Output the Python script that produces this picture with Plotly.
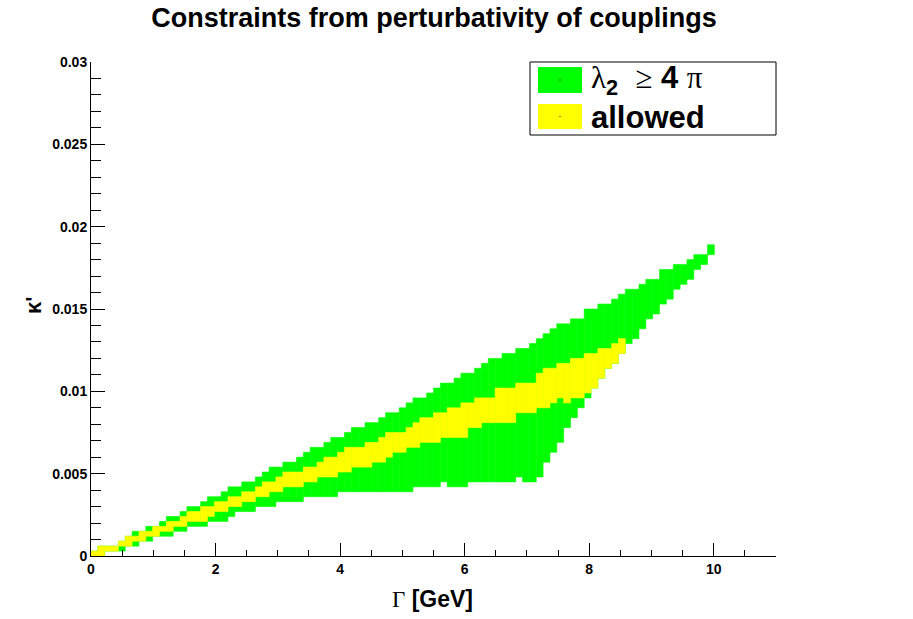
import plotly.graph_objects as go

# ---- histogram binning (TH2: 100 x-bins over 0-11 GeV, 100 y-bins over 0-0.03) ----
gamma_bin = 0.11
kappa_bin = 0.0003

# ---- filled cells per Gamma column (y-bin indices, inclusive) ----
# None = no cells of that kind in the column
green_lo = [None, None, None, None, 1, None, 2, None, 3, None, 4, 4, 5, 5, 6, 6, 6, 7, 7, 7, 8,
            9, 9, 9, 10, 10, 10, 11, 11, 11, 11, 12, 12, 12, 12, 12, 13, 13, 13, 13, 13,
            13, 13, 13, 13, 13, 13, 14, 14, 14, 14, 15, 14, 14, 14, 15, 15, 15, 15, 15, 15,
            15, 16, 15, 15, 16, 19, 21, 23, 26, 28, 30, 32, None, None, None, None, None,
            43, 44, 46, 48, 49, 51, 52, 54, 55, 56, 58, 59, 61]
green_hi = [None, None, None, None, None, None, 4, None, 5, None, 6, 7, 7, 8, 9, 9, 10, 11, 11, 12, 13,
            13, 14, 14, 15, 16, 17, 17, 18, 18, 19, 20, 21, 21, 22, 23, 23, 24, 25, 25, 26,
            26, 27, 28, 28, 29, 30, 31, 31, 32, 33, 34, 34, 35, 36, 36, 37, 38, 39, 39, 40,
            40, 41, 41, 42, 43, 44, 45, 46, 46, 47, 47, 49, 49, 50, 50, 51, 52,
            53, 53, 54, 55, 55, 57, 57, 58, 58, 59, 60, 60, 62]
allowed_lo = [0, 0, 1, 1, 2, 2, 3, 3, 4, 4, 5, 5, 6, 6, 7, 7, 7, 8, 9, 9, 10,
              10, 11, 11, 12, 12, 13, 13, 14, 14, 14, 15, 15, 16, 16, 16, 17, 17, 18, 18, 18,
              19, 19, 20, 21, 21, 22, 22, 23, 23, 23, 24, 24, 24, 24, 26, 26, 27, 27, 27, 27,
              27, 29, 29, 29, 30, 30, 31, 32, 31, 32, 32, 33, 34, 36, 38, 39, 41,
              None, None, None, None, None, None, None, None, None, None, None, None, None]
allowed_hi = [0, 1, 1, 1, 2, 3, 3, 4, 4, 5, 5, 6, 6, 7, 8, 8, 9, 9, 10, 10, 11,
              11, 12, 12, 13, 14, 14, 15, 16, 16, 16, 17, 17, 18, 19, 19, 20, 21, 21, 21, 22,
              22, 23, 24, 24, 24, 25, 26, 27, 27, 28, 28, 29, 29, 30, 30, 31, 31, 31, 33, 33,
              33, 34, 34, 34, 36, 37, 37, 38, 38, 39, 39, 40, 40, 41, 41, 42, 43,
              None, None, None, None, None, None, None, None, None, None, None, None, None]

title_text = "Constraints from perturbativity of couplings"
legend_labels = ["λ<sub>2</sub> ≥ 4 π", "allowed"]
x_ticks = [0, 2, 4, 6, 8, 10]
y_ticks = [0, 0.005, 0.01, 0.015, 0.02, 0.025, 0.03]
y_tick_text = ["0", "0.005", "0.01", "0.015", "0.02", "0.025", "0.03"]

GREEN = "#00ff00"
YELLOW = "#ffff00"
FONT = "Liberation Sans"
SERIF = "Liberation Serif"

# ---- build bars from the bins ----
gx, gbase, gh = [], [], []
ax_, abase, ah = [], [], []
for i in range(len(green_lo)):
    lows = [v for v in (green_lo[i], allowed_lo[i]) if v is not None]
    highs = [v for v in (green_hi[i], allowed_hi[i]) if v is not None]
    xc = (i + 0.5) * gamma_bin
    if lows and highs:
        lo, hi = min(lows), max(highs)
        gx.append(xc)
        gbase.append(lo * kappa_bin)
        gh.append((hi + 1 - lo) * kappa_bin)
    if allowed_lo[i] is not None:
        ax_.append(xc)
        abase.append(allowed_lo[i] * kappa_bin)
        ah.append((allowed_hi[i] + 1 - allowed_lo[i]) * kappa_bin)

fig = go.Figure()
fig.add_trace(go.Bar(x=gx, y=gh, base=gbase, width=gamma_bin,
                     marker=dict(color=GREEN, line=dict(width=0.6, color=GREEN)),
                     showlegend=False, hoverinfo="skip"))
fig.add_trace(go.Bar(x=ax_, y=ah, base=abase, width=gamma_bin,
                     marker=dict(color=YELLOW, line=dict(width=0.6, color=YELLOW)),
                     showlegend=False, hoverinfo="skip"))

# ---- page geometry ----
W, H = 913, 619
L, R, T, B = 91, 776, 62, 556


def px(xp):
    return (xp - L) / (R - L)


def py(yp):
    return (B - yp) / (B - T)


shapes = []
annotations = []
# legend box
shapes.append(dict(type="rect", xref="paper", yref="paper",
                   x0=px(530), x1=px(776), y0=py(135), y1=py(62),
                   line=dict(color="black", width=1), fillcolor="white", layer="above"))
swatch_y = [(67, 93), (104, 129)]
colors = [GREEN, YELLOW]
for (y0, y1), c in zip(swatch_y, colors):
    shapes.append(dict(type="rect", xref="paper", yref="paper",
                       x0=px(538), x1=px(582), y0=py(y1), y1=py(y0),
                       line=dict(width=0), fillcolor=c, layer="above"))
    cy = (y0 + y1) / 2
    shapes.append(dict(type="rect", xref="paper", yref="paper",
                       x0=px(559.5), x1=px(560.5), y0=py(cy + 0.5), y1=py(cy - 0.5),
                       line=dict(width=0), fillcolor="black", layer="above"))

annotations.append(dict(
    xref="paper", yref="paper", x=px(589), y=py(80), xanchor="left", yanchor="middle",
    text=('<span style="font-family:%s;font-weight:normal">λ</span>'
          '<sub>2</sub>  <span style="font-family:%s;font-weight:normal">≥</span> 4 '
          '<span style="font-family:%s;font-weight:normal">π</span>') % (SERIF, SERIF, SERIF),
    showarrow=False, font=dict(family=FONT, size=31, color="black", weight="bold")))
annotations.append(dict(
    xref="paper", yref="paper", x=px(589), y=py(117), xanchor="left", yanchor="middle",
    text=legend_labels[1], showarrow=False,
    font=dict(family=FONT, size=31, color="black", weight="bold")))

# axis titles
annotations.append(dict(
    xref="paper", yref="paper", x=px(432), y=py(599), xanchor="center", yanchor="middle",
    text='<span style="font-family:%s;font-weight:normal">Γ</span> [GeV]' % SERIF,
    showarrow=False, font=dict(family=FONT, size=23, color="black", weight="bold")))
annotations.append(dict(
    xref="paper", yref="paper", x=px(33), y=py(305), xanchor="center", yanchor="middle",
    text="κ'", textangle=-90, showarrow=False,
    font=dict(family=FONT, size=22, color="black", weight="bold")))

fig.update_layout(
    width=W, height=H,
    margin=dict(l=L, r=W - R, t=T, b=H - B, pad=0),
    paper_bgcolor="white", plot_bgcolor="white",
    barmode="overlay",
    showlegend=False,
    title=dict(text=title_text, x=434 / W, y=1 - 18 / H, xanchor="center", yanchor="middle",
               font=dict(family=FONT, size=27, color="black", weight="bold")),
    shapes=shapes, annotations=annotations,
    font=dict(family=FONT, color="black"),
)
fig.update_xaxes(range=[0, 11], tickvals=x_ticks, ticks="inside", ticklen=13, tickwidth=1,
                 tickcolor="black", showline=True, linecolor="black", linewidth=1,
                 showgrid=False, zeroline=False,
                 minor=dict(dtick=0.5, ticks="inside", ticklen=6, tickcolor="black", showgrid=False),
                 tickfont=dict(family=FONT, size=14, color="black", weight="bold"))
fig.update_yaxes(range=[0, 0.03], tickvals=y_ticks, ticktext=y_tick_text, ticks="inside",
                 ticklen=14, tickwidth=1, tickcolor="black", showline=True, linecolor="black",
                 linewidth=1, showgrid=False, zeroline=False,
                 minor=dict(dtick=0.001, ticks="inside", ticklen=10, tickcolor="black", showgrid=False),
                 tickfont=dict(family=FONT, size=14, color="black", weight="bold"))

fig.write_html("out.html", config={"displayModeBar": False},
               post_script="document.body.style.margin='0';")
